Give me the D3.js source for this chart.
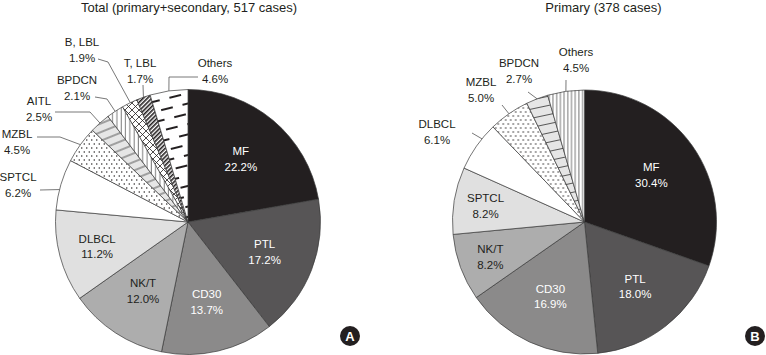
<!DOCTYPE html>
<html><head><meta charset="utf-8">
<script src="https://cdn.jsdelivr.net/npm/d3@7"></script>
<style>
body{margin:0;background:#fff}
svg{display:block}
text{font-family:Arial,"Liberation Sans",Helvetica,sans-serif}
</style>
</head><body>
<svg id="chart" width="766" height="355"></svg>
<script>
// ---------- data ----------
const totalTitle = "Total (primary+secondary, 517 cases)";
const totalCategories = ["MF","PTL","CD30","NK/T","DLBCL","SPTCL","MZBL","AITL","BPDCN","B, LBL","T, LBL","Others"];
const totalValues = [22.2,17.2,13.7,12.0,11.2,6.2,4.5,2.5,2.1,1.9,1.7,4.6];

const primaryTitle = "Primary (378 cases)";
const primaryCategories = ["MF","PTL","CD30","NK/T","SPTCL","DLBCL","MZBL","BPDCN","Others"];
const primaryValues = [30.4,18.0,16.9,8.2,8.2,6.1,5.0,2.7,4.5];

const panelLetters = ["A","B"];

// ---------- styles ----------
const totalFills = ["#231f20","#575556","#8b8a8a","#adadad","#e0e0e0","#ffffff",
  "url(#dots)","url(#stripesA)","url(#vlines)","url(#diamonds)","url(#diag)","url(#dashes)"];
const primaryFills = ["#231f20","#575556","#8b8a8a","#adadad","#e0e0e0","#ffffff",
  "url(#dots)","url(#stripesB)","url(#vlinesDense)"];
const lightText = ["#231f20","#575556","#8b8a8a"];

// outer-label layout (offsets from pie centre): text anchor, leader bend points, fraction along slice
const totalOuter = {
  "SPTCL":  {text:[-170,-45], path:[[-148,-32]], t:0.4},
  "MZBL":   {text:[-171,-88], path:[[-151,-85],[-128,-85]], t:0.5},
  "AITL":   {text:[-149,-121], path:[[-133,-110],[-98,-110]], t:0.5},
  "BPDCN":  {text:[-111,-142], path:[[-93,-125],[-81,-123]], t:0.5},
  "B, LBL": {text:[-106,-180], path:[[-90,-163],[-80,-160]], t:0.55},
  "T, LBL": {text:[-48,-159], path:[[-45,-137]], t:0.5},
  "Others": {text:[27,-159], path:[[10,-145],[-19,-145]], t:0.5}
};
const primaryOuter = {
  "DLBCL":  {text:[-147.5,-98], path:[[-112.5,-89]], t:0.68},
  "MZBL":   {text:[-103.5,-140], path:[[-82.5,-117]], t:0.5},
  "BPDCN":  {text:[-65.5,-159], path:[[-56.5,-130]], t:0.5},
  "Others": {text:[-8.5,-170], path:[[-18.5,-142]], t:0.5}
};

const svg = d3.select("#chart");
const defs = svg.append("defs");

// patterns
function pat(id, w, h, transform){
  const p = defs.append("pattern").attr("id", id).attr("patternUnits","userSpaceOnUse")
    .attr("width", w).attr("height", h);
  if (transform) p.attr("patternTransform", transform);
  return p;
}
{
  const p = pat("dots", 5, 8);
  p.append("rect").attr("width",5).attr("height",8).attr("fill","#fff");
  p.append("circle").attr("cx",1.25).attr("cy",2).attr("r",0.75).attr("fill","#231f20");
  p.append("circle").attr("cx",3.75).attr("cy",6).attr("r",0.75).attr("fill","#231f20");
}
{
  const p = pat("stripesA", 8, 8, "rotate(-22)");
  p.append("rect").attr("width",8).attr("height",8).attr("fill","#e6e6e6");
  p.append("line").attr("x1",-1).attr("x2",9).attr("y1",4).attr("y2",4).attr("stroke","#333").attr("stroke-width",0.8);
}
{
  const p = pat("stripesB", 9, 9, "rotate(-12)");
  p.append("rect").attr("width",9).attr("height",9).attr("fill","#e6e6e6");
  p.append("line").attr("x1",-1).attr("x2",10).attr("y1",4.5).attr("y2",4.5).attr("stroke","#333").attr("stroke-width",0.8);
}
{
  const p = pat("vlines", 4.3, 10);
  p.append("rect").attr("width",4.3).attr("height",10).attr("fill","#fff");
  p.append("line").attr("x1",2).attr("x2",2).attr("y1",-1).attr("y2",11).attr("stroke","#333").attr("stroke-width",0.7);
}
{
  const p = pat("vlinesDense", 3.7, 10);
  p.append("rect").attr("width",3.7).attr("height",10).attr("fill","#fff");
  p.append("line").attr("x1",1.8).attr("x2",1.8).attr("y1",-1).attr("y2",11).attr("stroke","#333").attr("stroke-width",0.7);
}
{
  const p = pat("diamonds", 7, 7);
  p.append("rect").attr("width",7).attr("height",7).attr("fill","#fff");
  p.append("path").attr("d","M-1,-1L8,8M8,-1L-1,8").attr("stroke","#231f20").attr("stroke-width",0.8);
}
{
  const p = pat("diag", 3, 3, "rotate(45)");
  p.append("rect").attr("width",3).attr("height",3).attr("fill","#fff");
  p.append("rect").attr("width",1.6).attr("height",3).attr("fill","#231f20");
}
{
  const p = pat("dashes", 22, 20, "rotate(-14)");
  p.append("rect").attr("width",22).attr("height",20).attr("fill","#fff");
  p.append("path").attr("d","M1,5L13,5M12,15L24,15M-10,15L2,15")
    .attr("stroke","#231f20").attr("stroke-width",2);
}

const FONT = 11.5, LH = 15.8, CAP = 4.1;

function drawPie(cx, cy, R, categories, values, fills, outer, title, titleX, letter, badge){
  const data = categories.map((c,i)=>({name:c, value:values[i], fill:fills[i]}));
  const pie = d3.pie().sort(null).value(d=>d.value);
  const arcs = pie(data);
  const arc = d3.arc().innerRadius(0).outerRadius(R);
  const g = svg.append("g").attr("transform",`translate(${cx},${cy})`);

  g.selectAll("path.slice").data(arcs).join("path")
    .attr("class","slice")
    .attr("d", arc)
    .attr("fill", d=>d.data.fill)
    .attr("stroke","#3a3a3a").attr("stroke-width",0.7).attr("stroke-linejoin","round");

  // inner labels
  arcs.forEach(a=>{
    const name = a.data.name;
    if (outer[name]) return;
    const v = a.data.value;
    const lr = R * (v < 10 ? 0.76 : v < 12 ? 0.71 : 0.62);
    const ang = (a.startAngle + a.endAngle)/2;
    const x = lr*Math.sin(ang), y = -lr*Math.cos(ang);
    const col = lightText.includes(a.data.fill) ? "#ffffff" : "#231f20";
    const t = g.append("text").attr("text-anchor","middle").attr("font-size",FONT).attr("fill",col);
    t.append("tspan").attr("x",x).attr("y",y - LH/2 + CAP).text(name);
    t.append("tspan").attr("x",x).attr("y",y + LH/2 + CAP).text(v.toFixed(1)+"%");
  });

  // outer labels with leaders
  const line = d3.line();
  arcs.forEach(a=>{
    const name = a.data.name;
    const o = outer[name];
    if (!o) return;
    const ang = a.startAngle + o.t*(a.endAngle - a.startAngle);
    const rim = [R*Math.sin(ang), -R*Math.cos(ang)];
    g.append("path").attr("d", line([...o.path, rim]))
      .attr("fill","none").attr("stroke","#555").attr("stroke-width",0.8);
    const [tx,ty] = o.text;
    const t = g.append("text").attr("text-anchor","middle").attr("font-size",FONT).attr("fill","#231f20");
    t.append("tspan").attr("x",tx).attr("y",ty + CAP).text(name);
    t.append("tspan").attr("x",tx).attr("y",ty + LH + CAP).text(a.data.value.toFixed(1)+"%");
  });

  svg.append("text").attr("x",titleX).attr("y",12).attr("text-anchor","middle")
    .attr("font-size",13).attr("fill","#231f20").text(title);

  const b = svg.append("g").attr("transform",`translate(${badge[0]},${badge[1]})`);
  b.append("circle").attr("r",10).attr("fill","#231f20");
  b.append("text").attr("text-anchor","middle").attr("y",4.7).attr("font-size",13)
    .attr("font-weight","bold").attr("fill","#fff").text(letter);
}

drawPie(188, 222, 132.5, totalCategories, totalValues, totalFills, totalOuter, totalTitle, 189, panelLetters[0], [350,336]);
drawPie(584.5, 222, 132, primaryCategories, primaryValues, primaryFills, primaryOuter, primaryTitle, 603.5, panelLetters[1], [755,336]);
</script>
</body></html>
